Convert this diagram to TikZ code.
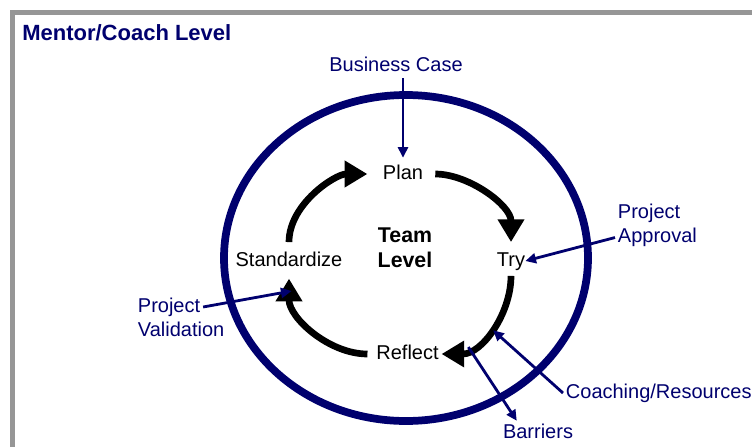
\documentclass[tikz,border=0pt]{standalone}
\usepackage{xcolor}
\usepackage{fontspec}
\setmainfont{Liberation Sans}
\usetikzlibrary{positioning,arrows.meta}
\definecolor{navy}{RGB}{0,0,110}
\definecolor{framegray}{RGB}{150,150,150}
\tikzset{
  word/.style={inner sep=0pt, text height=11pt, text depth=3pt, font=\fontsize{15}{18}\selectfont},
  tag/.style={word, inner sep=2pt, text=navy},
  cyc/.style={line width=5pt, -{Triangle[width=19pt,length=17pt]}},
  lnk/.style={navy, line width=2.1pt, -{Triangle[width=7.5pt,length=8pt]}}
}

\begin{document}
\begin{tikzpicture}[x=0.75pt,y=-0.75pt]
\clip (0,0) rectangle (752,446);
\draw[framegray, line width=3.75pt] (12.5,12.5) rectangle (800,500);
\draw[navy, line width=5.8pt] (406,258) ellipse [x radius=136.5pt, y radius=122.25pt];

\node[anchor=base west, inner sep=0pt, text=navy, font=\fontsize{16.5}{20}\selectfont\bfseries] (title) at (22,40) {Mentor/Coach Level};
\node[tag] (bc) at (396,66) {Business Case};
\node[word] (plan) at (403,174) {Plan};
\node[word] (try) at (511,261) {Try};
\node[word] (stand) at (289,261) {Standardize};
\node[word] (refl) at (407.5,354) {Reflect};
\node[align=center, font=\fontsize{16}{19}\selectfont\bfseries] (team) at (405,248) {Team\\Level};
\node[tag, anchor=west] (pa1) at (615,213) {Project};
\node[tag, below right=0pt and 0pt of pa1.south west] (pa2) {Approval};
\node[tag, anchor=west] (pv1) at (135,307) {Project};
\node[tag, below right=0pt and 0pt of pv1.south west] (pv2) {Validation};
\node[tag, anchor=west] (cr) at (563,393) {Coaching/Resources};
\node[tag] (bar) at (538,433) {Barriers};

\draw[cyc, shorten <=7pt, shorten >=11.5pt] (stand.north) to[out=90,in=180] (plan.west);
\draw[cyc, shorten <=9pt, shorten >=7pt] (plan.east) to[out=0,in=90] (try.north);
\draw[cyc, shorten <=4pt, shorten >=2pt] (try.south) to[out=-90,in=0]
  coordinate[pos=.5] (cin) coordinate[pos=.75] (bout) (refl.east);
\draw[cyc, shorten <=6.5pt, shorten >=6pt] (refl.west) to[out=180,in=-90]
  coordinate[pos=.85] (vin) (stand.south);

\draw[lnk, shorten >=5pt] (bc.south -| plan.north) -- (plan.north);
\draw[lnk] (pa2.west) -- (try.east);
\draw[lnk] (pv1.east) -- (vin);
\draw[lnk, shorten >=2pt] (cr.west) -- (cin);
\draw[lnk] (bout) -- (bar.150);
\end{tikzpicture}
\end{document}
